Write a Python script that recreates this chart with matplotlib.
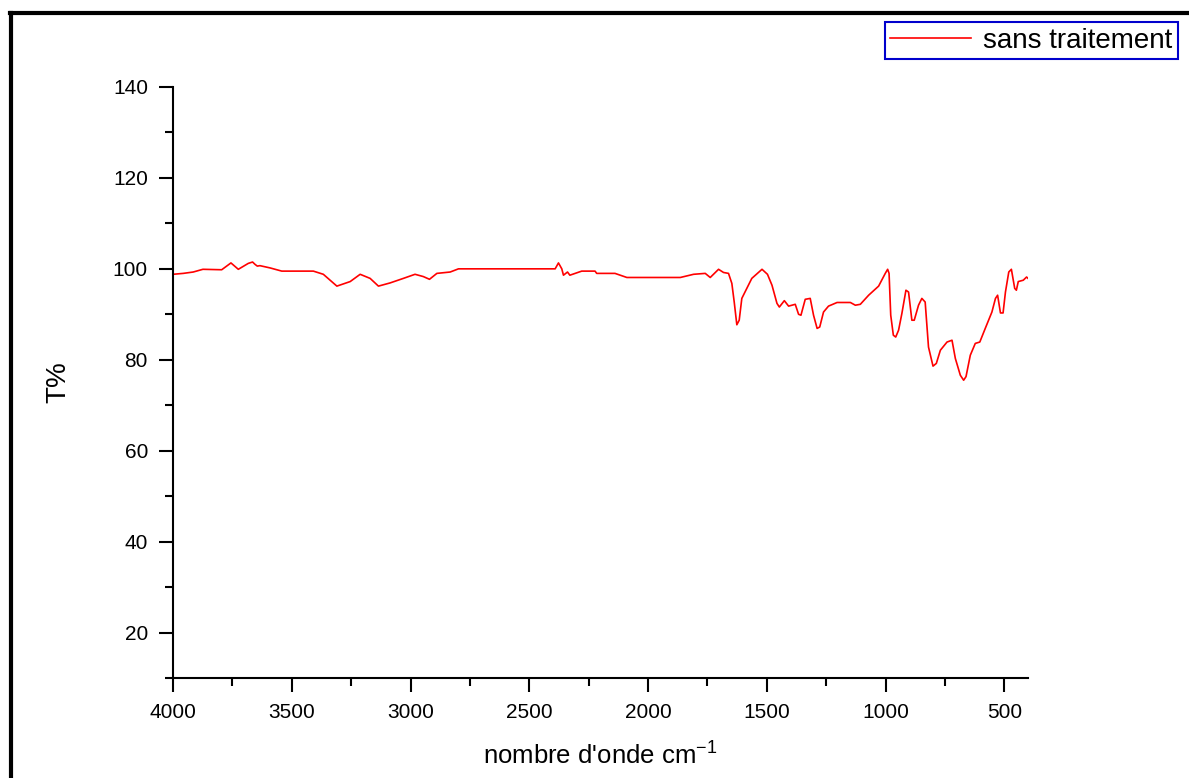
import matplotlib.pyplot as plt
from matplotlib.lines import Line2D
from matplotlib.ticker import MultipleLocator

plt.rcParams['font.family'] = ['Liberation Sans', 'DejaVu Sans']
plt.rcParams['mathtext.default'] = 'regular'

# spectre IR (nombre d'onde, transmittance)
nombre_onde = [4000, 3957, 3915, 3874, 3795, 3756, 3725, 3683, 3665, 3655, 3645, 3634,
               3591, 3542, 3409, 3367, 3310, 3254, 3212, 3170, 3135, 3086, 3030, 2981,
               2946, 2920, 2889, 2833, 2798, 2391, 2377, 2363, 2356, 2339, 2329, 2279,
               2223, 2216, 2139, 2089, 1864, 1808, 1759, 1738, 1703, 1682, 1661, 1647,
               1637, 1626, 1616, 1605, 1584, 1563, 1520, 1497, 1478, 1457, 1447, 1426,
               1408, 1380, 1366, 1356, 1338, 1317, 1303, 1288, 1277, 1261, 1240, 1204,
               1148, 1127, 1106, 1071, 1029, 1001, 991, 985, 978, 967, 957, 945,
               931, 914, 903, 889, 879, 861, 847, 833, 819, 800, 786, 769,
               741, 720, 706, 685, 671, 661, 643, 622, 603, 580, 552, 537,
               528, 516, 505, 495, 481, 470, 456, 449, 441, 420, 406, 400]
transmittance = [98.8, 99.0, 99.3, 99.9, 99.8, 101.3, 99.9, 101.2, 101.5, 101.0, 100.6, 100.7,
                 100.2, 99.5, 99.5, 98.8, 96.2, 97.2, 98.8, 97.9, 96.2, 96.9, 97.9, 98.8,
                 98.3, 97.7, 99.0, 99.3, 100.0, 100.0, 101.3, 100.0, 98.6, 99.3, 98.6, 99.5,
                 99.5, 99.0, 99.0, 98.1, 98.1, 98.8, 99.0, 98.1, 99.9, 99.2, 99.0, 96.8,
                 92.7, 87.7, 88.7, 93.5, 95.7, 97.9, 99.9, 98.8, 96.4, 92.4, 91.6, 93.0,
                 91.8, 92.2, 90.0, 89.8, 93.3, 93.5, 89.8, 86.9, 87.2, 90.5, 91.8, 92.6,
                 92.6, 92.0, 92.2, 94.2, 96.2, 99.0, 99.9, 99.0, 89.8, 85.4, 85.0, 86.5,
                 90.2, 95.3, 94.9, 88.7, 88.7, 92.0, 93.5, 92.7, 82.8, 78.6, 79.2, 82.1,
                 83.9, 84.3, 80.3, 76.6, 75.5, 76.3, 81.0, 83.6, 83.9, 86.9, 90.5, 93.5,
                 94.2, 90.3, 90.3, 94.9, 99.3, 99.9, 95.7, 95.3, 97.2, 97.5, 98.2, 97.9]

fig = plt.figure(figsize=(11.89, 7.78), dpi=100)
ax = fig.add_axes([0.1455, 0.1285, 0.7191, 0.7597])

ax.plot(nombre_onde, transmittance, color='#ff0000', linewidth=1.2, label='sans traitement')

ax.set_xlim(4000, 400)
ax.set_ylim(10, 140)
ax.xaxis.set_major_locator(MultipleLocator(500))
ax.xaxis.set_minor_locator(MultipleLocator(250))
ax.yaxis.set_minor_locator(MultipleLocator(10))
ax.set_yticks([20, 40, 60, 80, 100, 120, 140])

for s in ['top', 'right']:
    ax.spines[s].set_visible(False)
for s in ['left', 'bottom']:
    ax.spines[s].set_linewidth(1.5)

ax.tick_params(which='major', direction='out', length=10, width=1.5, labelsize=15, pad=8)
ax.tick_params(which='minor', direction='out', length=5.5, width=1.5)

ax.set_xlabel("nombre d'onde cm$^{-1}$", fontsize=18.5, labelpad=15)
ax.set_ylabel('T%', fontsize=20, labelpad=30)

leg = ax.legend(loc='upper right', bbox_to_anchor=(0.9907, 0.9717), bbox_transform=fig.transFigure,
                fontsize=20, handlelength=2.9, handletextpad=0.45, borderpad=0.2,
                fancybox=False, framealpha=1, borderaxespad=0)
leg.get_frame().set_edgecolor('#0000cc')
leg.get_frame().set_linewidth(1.5)

# cadre noir (haut et gauche)
fig.add_artist(Line2D([10.5 / 1189, 10.5 / 1189], [0, 1 - 12.5 / 778], transform=fig.transFigure,
                      color='black', linewidth=3))
fig.add_artist(Line2D([9.5 / 1189, 1], [1 - 12.5 / 778, 1 - 12.5 / 778], transform=fig.transFigure,
                      color='black', linewidth=3))

fig.savefig('out.png', dpi=100)
